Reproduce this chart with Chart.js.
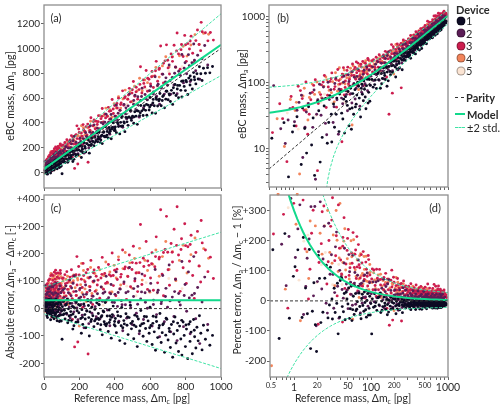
<!DOCTYPE html>
<html><head><meta charset="utf-8">
<script src="https://cdn.jsdelivr.net/npm/chart.js@4.4.1/dist/chart.umd.min.js"></script>
<style>
html,body{margin:0;padding:0;background:#fff;}
#wrap{position:relative;width:500px;height:407px;overflow:hidden;font-family:Lato,"Open Sans",sans-serif;color:#2a2a2a;}
canvas{position:absolute;}
.t{position:absolute;font-size:10.5px;white-space:nowrap;line-height:1;}
.t sub{font-size:7px;vertical-align:-2px;line-height:0;}
.rot{transform:translate(-50%,-50%) rotate(-90deg);}
.hc{transform:translate(-50%,-50%);}
.pl{position:absolute;font-size:11px;transform:translate(-50%,-50%);}
.lg{position:absolute;font-size:11px;line-height:1;white-space:nowrap;}
.dot{position:absolute;width:9px;height:9px;border-radius:50%;box-sizing:border-box;border:1px solid rgba(0,0,0,0.35);transform:translate(-50%,-50%);}
.ln{position:absolute;height:0;}
</style>
</head><body>
<div id="wrap">
<canvas id="ca" width="240" height="192" style="left:0;top:0"></canvas>
<canvas id="cb" width="240" height="192" style="left:226px;top:0"></canvas>
<canvas id="cc" width="240" height="215" style="left:0;top:192px"></canvas>
<canvas id="cd" width="240" height="215" style="left:226px;top:192px"></canvas>
<div class="t rot" style="left:10px;top:96px">eBC mass, Δm<sub>a</sub> [pg]</div>
<div class="t rot" style="left:242px;top:94px">eBC mass, Δm<sub>a</sub> [pg]</div>
<div class="t rot" style="left:10px;top:292px">Absolute error, Δm<sub>a</sub> − Δm<sub>c</sub> [-]</div>
<div class="t rot" style="left:237px;top:280px">Percent error, Δm<sub>a</sub> / Δm<sub>c</sub> − 1 [%]</div>
<div class="t hc" style="left:132px;top:398px">Reference mass, Δm<sub>c</sub> [pg]</div>
<div class="t hc" style="left:353px;top:398px">Reference mass, Δm<sub>c</sub> [pg]</div>
<div class="pl" style="left:56px;top:17px">(a)</div>
<div class="pl" style="left:283px;top:17px">(b)</div>
<div class="pl" style="left:56px;top:207px">(c)</div>
<div class="pl" style="left:435px;top:207px">(d)</div>
<div id="legend"></div>
</div>
<script>
// ---------------- DATA ----------------
const deviceNames = ['1', '2', '3', '4', '5'];

// [reference mass Δm_c, eBC mass Δm_a] in pg, per device
const dev1 = [[5.3,14.3],[6.4,-1.6],[7.6,24.6],[8.7,3.7],[9.8,17.8],[11.2,30.2],[12.7,5.7],[14.1,20.1],[15.8,42.8],[17.3,11.3],[18.9,3.9],[21.4,37.4],[23.7,14.7],[26.2,57.2],[28.8,24.8],[16.4,-9.6],[19.6,-13.4],
[31.5,12.5],[33.2,47.2],[35.9,32.9],[37.4,-3.6],[39.8,66.8],[42.3,34.3],[44.9,55.9],[46.1,17.1],[48.7,51.7],[51.2,73.2],[53.8,39.8],[56.5,19.5],[58.9,67.9],[61.3,92.3],[63.7,42.7],[66.4,64.4],[69.8,87.8],[72.1,39.1],[75.6,81.6],[78.3,66.3],[81.9,105.9],[85.2,60.2],[88.6,89.6],[92.7,48.7],[96.1,111.1],[99.4,90.4],
[10.3,22],[13.2,41],[14.9,8.5],[18.1,29],[20.7,52],[22.3,6.2],[25.1,44],[27.6,12],[29.7,63],[31.1,33],[34.2,21],[36.6,58],[39.1,18],[41.6,73],[43.8,28],[47.4,61],[50.1,45],[52.6,22],[55.1,82],[57.8,41],[60.4,33],[62.8,78],[65.2,47],[68.1,101],[71.4,58],[74.2,30],[77.1,94],[80.6,53],[83.4,79],[87.1,40],[90.3,112],[94.4,71],[97.8,52],
[102,-10],[104,111],[108,85],[111,137],[115,109],[119,81],[123,136],[127,110],[131,164],[134,82],[138,137],[142,115],[147,166],[151,140],[155,111],[160,168],[164,144],[169,106],[173,175],[178,147],[183,207],[187,179],[192,143],[197,182],[203,214],[208,172],[214,210],[219,161],[225,242],[231,209],[236,166],[242,233],[248,276],[253,220],[259,247],[265,218],[270,275],[276,250],[282,216],[287,284],[293,254],[298,319],[211,121],[256,156],[163,88],
[113,93],[126,141],[139,96],[152,128],[166,172],[181,131],[195,210],[217,185],[233,195],[251,262],[268,228],[286,241],
[303,248],[307,289],[312,326],[318,241],[323,292],[329,233],[334,325],[340,292],[346,368],[351,288],[357,330],[363,279],[368,363],[374,333],[380,272],[386,364],[391,400],[397,338],[403,367],[409,321],[415,403],[421,370],[428,311],[433,404],[439,443],[445,375],[451,407],[457,329],[463,444],[469,408],[475,380],[481,448],[488,500],[494,420],[500,453],[507,397],[513,489],[520,454],[527,388],[533,495],[540,458],[547,540],[553,497],[560,459],[567,538],[574,501],[581,461],[588,543],[594,504],[599,604],
[310,270],[327,301],[344,287],[372,345],[399,352],
[306,270],[321,262],[338,326],[355,300],[369,318],[383,351],[402,338],[418,392],[436,373],[454,398],[472,441],[491,437],[509,448],[526,497],[544,481],[563,509],[579,549],[597,527],
[604,542],[611,480],[617,589],[623,538],[630,478],[636,589],[642,536],[649,578],[655,637],[662,538],[668,580],[675,620],[681,521],[688,591],[694,655],[701,586],[707,634],[714,572],[720,662],[727,549],[733,640],[740,709],[746,620],[753,673],[760,603],[766,702],[773,662],[779,609],[786,737],[792,694],[799,660],[805,730],[812,629],[818,761],[825,705],[831,745],[838,673],[845,805],[851,748],[858,714],[864,796],[871,753],[878,852],[886,796],[893,742],[901,840],[912,800],[924,845],[937,803],[952,854],
[615,561],[633,602],[652,590],[671,612],[690,655],[709,625],[731,683],[755,702],[778,735],[802,742],[826,778],[849,770]];

const dev2 = [[5.6,89.6],[6.9,19.9],[7.9,11.9],[9.1,40.1],[10.4,25.4],[11.9,49.9],[13.3,7.3],[14.8,35.8],[16.6,68.6],[17.9,20.9],[19.4,3.4],[20.8,54.8],[22.9,31.9],[24.6,85.6],[27.1,16.1],[29.3,55.3],
[8.6,27],[11.2,38],[12.8,64],[14.2,21],[15.7,48],[18.6,77],[20.1,33],[21.9,94],[23.8,57],[26.1,24],[28.2,101],
[30.6,77.6],[32.8,24.8],[34.5,96.5],[36.8,54.8],[38.4,16.4],[40.9,73.9],[43.6,47.6],[45.2,124.2],[47.9,74.9],[50.3,37.3],[52.7,103.7],[55.4,67.4],[58.1,146.1],[60.9,96.9],[63.2,56.2],[66.8,123.8],[69.4,90.4],[72.7,43.7],[75.3,119.3],[79.1,88.1],[82.6,153.6],[86.9,116.9],[91.3,75.3],[95.8,153.8],
[31.9,60],[33.7,43],[35.6,117],[39.2,79],[42.1,58],[44.7,101],[48.8,66],[51.6,131],[54.2,88],[57.3,49],[61.7,120],[64.9,82],[68.3,161],[71.9,112],[76.8,71],[80.2,133],[84.7,96],[89.2,172],[93.4,118],[98.1,92],
[101,125],[106,173],[110,107],[114,155],[119,131],[124,207],[129,108],[133,168],[138,196],[143,149],[148,114],[153,200],[158,177],[164,256],[169,157],[175,203],[181,244],[186,188],[192,151],[198,236],[204,278],[210,225],[216,192],[222,273],[228,237],[235,321],[241,233],[247,280],[253,198],[259,325],[265,287],[271,254],[277,322],[283,384],[289,296],[295,265],[171,291],[226,156],[262,377],[146,251],
[116,189],[131,152],[156,231],[179,199],[208,250],[239,291],[268,301],[298,330],
[302,356],[309,325],[316,278],[323,402],[330,357],[337,325],[344,405],[351,469],[358,353],[365,405],[372,309],[379,467],[386,409],[393,366],[401,453],[408,542],[415,423],[423,377],[430,501],[437,466],[445,364],[452,549],[460,474],[467,432],[475,537],[483,633],[490,493],[498,440],[506,550],[514,623],[522,505],[530,611],[538,446],[546,581],[554,680],[562,522],[571,629],[584,585],
[312,341],[334,390],[356,388],[377,431],[398,420],[419,478],[441,455],[463,521],[486,510],[507,580],[529,545],[551,612],[573,596],[596,660],
[603,695],[611,547],[619,650],[628,771],[636,614],[645,712],[653,550],[662,680],[671,792],[680,632],[689,763],[698,703],[707,866],[716,631],[725,767],[734,705],[743,849],[752,635],[761,816],[770,783],[779,951],[788,722],[797,885],[806,796],[816,950],[826,734],[836,885],[846,1036],[857,820],[868,945],[880,752],[893,917],[908,1023],[925,867],
[618,633],[641,700],[664,690],[686,730],[712,740],[738,800],[764,790],[792,840],[821,860],[850,905]];

const dev3 = [[5.4,17.4],[6.7,47.7],[7.3,28.3],[8.3,6.3],[9.4,61.4],[10.9,21.9],[12.4,75.4],[13.9,37.9],[15.4,16.4],[16.9,54.9],[18.4,90.4],[20.6,4.6],[22.6,65.6],[24.4,101.4],[26.7,41.7],[28.4,85.4],
[9.9,42],[11.6,88],[13.1,57],[14.6,102],[16.1,33],[17.7,71],[19.3,110],[21.1,48],[23.2,92],[25.3,128],[27.8,64],[29.9,104],
[30.9,113.9],[32.4,61.4],[34.7,86.7],[36.3,42.3],[38.9,106.9],[41.4,78.4],[43.1,134.1],[45.7,64.7],[47.3,105.3],[49.6,152.6],[51.9,95.9],[54.1,66.1],[56.8,127.8],[59.2,92.2],[61.8,157.8],[64.3,112.3],[67.1,89.1],[69.9,153.9],[72.4,127.4],[74.8,189.8],[77.6,115.6],[80.4,147.4],[83.9,91.9],[87.3,179.3],[90.6,135.6],[93.2,221.2],[95.9,156.9],[98.7,125.7],[65.5,205.5],[42.6,12.6],
[31.6,140],[33.8,79],[35.4,112],[37.7,158],[40.3,95],[42.9,121],[44.6,168],[46.9,84],[48.9,131],[50.7,171],[53.3,112],[55.9,145],[58.4,191],[60.7,128],[63.1,170],[66.2,141],[68.6,197],[71.3,150],[73.6,112],[76.2,172],[79.2,209],[81.8,140],[85.6,196],[89.1,162],[92.1,231],[96.8,180],
[102,176],[106,145],[109,221],[113,171],[117,134],[121,212],[125,171],[129,264],[133,203],[137,166],[141,244],[146,200],[150,231],[155,297],[159,195],[164,259],[168,230],[173,33],[177,297],[182,230],[187,273],[191,69],[196,350],[201,269],[206,237],[211,318],[216,293],[221,386],[227,269],[232,330],[238,369],[243,302],[249,83],[254,366],[260,340],[265,441],[271,317],[277,376],[283,424],[289,352],[295,413],[161,121],[219,224],[275,290],[186,376],
[104,214],[118,242],[132,226],[147,262],[163,281],[181,305],[199,322],[224,345],[247,390],[279,410],
[301,387],[308,458],[315,353],[322,434],[329,516],[336,407],[343,471],[350,375],[357,453],[364,525],[371,429],[378,497],[385,588],[392,476],[399,539],[406,453],[414,520],[421,599],[429,502],[436,561],[444,658],[451,542],[459,611],[466,499],[474,591],[482,678],[489,569],[497,640],[505,733],[513,614],[521,687],[529,591],[537,668],[545,852],[553,641],[561,745],[569,689],[577,822],[585,655],[593,751],
[306,410],[327,452],[348,440],[369,493],[391,512],[412,556],[433,548],[455,600],[477,625],[499,667],[520,650],[542,710],[564,718],[586,760],
[602,714],[610,814],[618,685],[626,779],[634,896],[642,736],[650,831],[659,1020],[667,793],[675,722],[684,900],[692,1029],[701,843],[709,794],[718,956],[726,896],[735,1025],[743,851],[752,1124],[760,956],[769,832],[777,1032],[786,935],[795,1105],[804,896],[813,1039],[822,995],[831,1099],[840,961],[849,886],[858,1063],[867,1149],[876,1032],[885,982],[894,1134],[888,1210],[912,1126],[926,1061],[940,1128],[957,1067],
[608,772],[630,820],[652,840],[675,880],[699,905],[724,930],[749,980],[774,990],[800,1030],[826,1060]];

const dev4 = [[5.1,-5.9],[6.2,28.2],[7.7,10.7],[9.2,55.2],[10.6,37.6],[12.1,4.1],[13.4,62.4],[14.7,38.7],[16.2,59.2],[17.6,94.6],[21.8,70.8],[27.3,109.3],
[11,50],[13.9,82],[15.5,27],[18.9,66],[20.3,102],[23.1,59],[24.9,87],[26.4,121],[29.1,76],
[31.2,70.2],[33.9,50.9],[36.2,109.2],[38.6,93.6],[41.9,77.9],[44.3,132.3],[46.8,94.8],[50.8,71.8],[53.5,119.5],[57.7,22.7],[60.2,154.2],[63.9,115.9],[67.6,98.6],[71.2,178.2],[74.1,136.1],[78.8,122.8],[82.1,168.1],[86.4,214.4],[89.7,147.7],[93.8,128.8],[97.2,189.2],[39.5,167.5],[55,165],[70,78],
[32.3,103],[35.2,141],[37.4,74],[40.6,112],[43.1,98],[45.6,155],[49.2,118],[52.1,90],[56.3,139],[59.4,180],[62.4,127],[66.1,156],[69.4,120],[73.2,188],[77.4,148],[81.2,201],[85.1,142],[91.6,176],[96.4,213],
[103,166],[108,209],[114,160],[120,202],[127,152],[133,251],[140,210],[147,199],[154,249],[161,195],[168,291],[176,252],[183,231],[191,295],[199,135],[207,294],[215,273],[223,362],[231,303],[239,265],[247,360],[255,336],[263,413],[271,326],[279,375],[287,415],[295,362],[135,150],[212,377],[258,288],
[111,188],[124,231],[143,240],[166,268],[189,300],[226,330],
[304,408],[315,457],[326,404],[337,458],[349,519],[360,453],[372,506],[384,445],[396,554],[408,520],[421,610],[433,519],[446,592],[459,664],[472,590],[485,652],[498,572],[512,695],[526,657],[540,760],[555,659],[570,746],[585,724],[598,658],
[614,776],[632,846],[651,769],[669,859],[688,933],[707,850],[726,934],[745,847],[765,941],[786,1017],[808,938],[830,1027],[853,1111],[877,1032],[902,1121],[930,1114]];

const dev5 = [[8.4,34.4],[11.6,19.6],[13.4,40],[15.1,48.1],[19.8,31.8],[22.7,50],[25.5,66.5],[31.7,48.7],[38.1,84.1],[42,65],[46.4,50.4],[55.9,84.9],[64.8,116.8],[70,92],[76.3,97.3],[88.1,126.1],[101,110],[117,164],[136,162],[140,175],[158,216],[181,196],[206,250],[234,305],[263,293],[297,352],[334,346],[376,439],[421,457],[468,550],[520,567],[577,672],[638,692],[705,815],[780,853]];

// model curve and ±2 std. envelope (pg)
const modelMc = [0,4.87,5.5,6,7,8,9,10,11,12,13,14,16,18,20,22,24,26,28,30,33,36,40,45,50,55,60,70,80,90,100,120,150,200,250,300,400,500,600,700,800,900,1000];
const modelMa = [30,34.9,35.5,36,37,38,39,40,41,42,43,44,46,48,50,52,54,56,58,60,63,66,70,75,80,85,90,100,110,120,130,150,180,230,280,330,430,530,630,730,830,930,1030];
const upperMa = [79,84.8,85.6,86.2,87.4,88.6,89.8,91,92.2,93.4,94.6,95.8,98.2,100.6,103,105.4,107.8,110.2,112.6,115,118.6,122.2,127,133,139,145,151,163,175,187,199,223,259,319,379,439,559,679,799,919,1039,1159,1279];
const lowerMa = [-19,-15.1,-14.6,-14.2,-13.4,-12.6,-11.8,-11,-10.2,-9.4,-8.6,-7.8,-6.2,-4.6,-3,-1.4,0.2,1.8,3.4,5,7.4,9.8,13,17,21,25,29,37,45,53,61,77,101,141,181,221,301,381,461,541,621,701,781];
const parityMc = [0, 4.87, 1000];
const parityMa = [0, 4.87, 1000];

// tick values / labels
const linXTicks = [0,200,400,600,800,1000];
const aYTicks = [0,200,400,600,800,1000,1200];
const logXTicks = [5,6,7,8,9,10,20,30,40,50,60,70,80,90,100,200,300,400,500,600,700,800,900,1000];
const logXLabelVals = [5,10,20,50,100,200,500,1000];
const logXLabels = ['0.5','1','20','50','100','200','500','1000'];
const bYTicks = [3,4,5,6,7,8,9,10,20,30,40,50,60,70,80,90,100,200,300,400,500,600,700,800,900,1000];
const bYLabelVals = [10,100,1000];
const cYTicks = [-200,-100,0,100,200,300,400];
const cYLabels = ['-200','-100','0','+100','+200','+200','+400'];
const dYTicks = [-200,-100,0,100,200,300];
const dYLabels = ['-200','-100','0','+100','+200','+300'];

// ---------------- STYLE ----------------
const devColors = ['#0d0b24','#5b1d56','#cc1d4e','#f2845a','#fbe4d3'];
const FONT = 'Lato, "Open Sans", sans-serif';
const TXT = '#2a2a2a';
const GREEN = '#12d98c';
const GREEN2 = '#3ee3a4';
const devSets = [dev1, dev2, dev3, dev4, dev5];

// legend (HTML)
(function(){
  const L = document.getElementById('legend');
  let h = '<div class="lg" style="left:456px;top:4px;font-weight:bold">Device</div>';
  deviceNames.forEach((n,i)=>{
    const y = 20.5 + i*12.6;
    h += `<div class="dot" style="left:460.5px;top:${y}px;background:${devColors[i]}"></div>`;
    h += `<div class="lg" style="left:466px;top:${y-5.5}px">${n}</div>`;
  });
  h += '<div class="ln" style="left:455px;top:96.5px;width:9px;border-top:1px dashed #333"></div>';
  h += '<div class="lg" style="left:466px;top:91.5px;font-weight:bold">Parity</div>';
  h += `<div class="ln" style="left:455px;top:113px;width:10px;border-top:2px solid ${GREEN}"></div>`;
  h += '<div class="lg" style="left:467px;top:108.5px;font-weight:bold">Model</div>';
  h += `<div class="ln" style="left:455px;top:127px;width:10px;border-top:1px dashed ${GREEN2}"></div>`;
  h += '<div class="lg" style="left:467px;top:122px">±2 std.</div>';
  L.innerHTML = h;
})();

const frame = {
  id:'frame',
  afterDraw(chart){
    const a = chart.chartArea, c = chart.ctx;
    c.save(); c.strokeStyle = '#8e8e8e'; c.lineWidth = 1.3;
    c.strokeRect(a.left, a.top, a.right-a.left, a.bottom-a.top);
    c.restore();
  }
};

function fixTicks(vals){ return (scale)=>{ scale.ticks = vals.map(v=>({value:v})); }; }
function axis(type, min, max, tickVals, labelFn, fitFn, fontFn){
  return {
    type, min, max, offset:false,
    afterBuildTicks: fixTicks(tickVals),
    afterFit: (s)=>{ fitFn(s); s.paddingLeft=0; s.paddingRight=0; s.paddingTop=0; s.paddingBottom=0; },
    grid:{display:true, drawOnChartArea:false, drawTicks:true, tickLength:3, color:'#666', lineWidth:1},
    border:{display:false},
    ticks:{autoSkip:false, maxRotation:0, minRotation:0, padding:1, color:TXT,
      display: labelFn !== null,
      font: fontFn || {family:FONT, size:10},
      callback: labelFn || (()=>'')}
  };
}

function pointSets(tf){
  return devSets.map((d,i)=>({
    label:'Device '+deviceNames[i],
    data: d.map(p=>tf(p[0],p[1])).filter(Boolean),
    backgroundColor: devColors[i], borderWidth:0, pointRadius:1.45, pointHoverRadius:1.45,
    order: i+1, clip:2
  }));
}
function lineSet(mcArr, maArr, tf, color, width, dash){
  const data = [];
  mcArr.forEach((mc,i)=>{ const p = tf(mc, maArr[i]); if(p) data.push(p); });
  return {data, showLine:true, borderColor:color, borderWidth:width, borderDash:dash, pointRadius:0, order:0, clip:0, fill:false, tension:0};
}
function lines(tf){
  return [
    lineSet(parityMc, parityMa, tf, '#333', 1, [3,2]),
    lineSet(modelMc, upperMa, tf, GREEN2, 1, [3,1.5]),
    lineSet(modelMc, lowerMa, tf, GREEN2, 1, [3,1.5]),
    lineSet(modelMc, modelMa, tf, GREEN, 2, [])
  ];
}
function make(id, tf, xs, ys, pad){
  new Chart(document.getElementById(id), {
    type:'scatter',
    data:{datasets:[...lines(tf), ...pointSets(tf)]},
    options:{responsive:false, animation:false, devicePixelRatio:1,
      layout:{padding:pad},
      plugins:{legend:{display:false}, tooltip:{enabled:false}},
      scales:{x:xs, y:ys}},
    plugins:[frame]
  });
}

const tfA = (mc,ma)=>({x:mc, y:ma});
const tfB = (mc,ma)=> (mc>0 && ma>0) ? {x:mc, y:ma} : null;
const tfC = (mc,ma)=>({x:mc, y:ma-mc});
const tfD = (mc,ma)=> mc>0 ? {x:mc, y:(ma/mc-1)*100} : null;

const lbl = (vals, labels)=> (v)=>{ const i = vals.indexOf(v); return i<0 ? '' : labels[i]; };

// (a)
make('ca', tfA,
  axis('linear', 0, 1000, linXTicks, null, s=>{s.height=4;}),
  axis('linear', -125, 1350, aYTicks, v=>String(v), s=>{s.width=44;}),
  {left:0, top:5, right:19, bottom:0});
// (b)
make('cb', tfB,
  axis('logarithmic', 4.87, 1000, logXTicks, null, s=>{s.height=5;}),
  axis('logarithmic', 2.6, 1500, bYTicks, v=> bYLabelVals.includes(v) ? String(v) : '', s=>{s.width=43;}),
  {left:0, top:5, right:18, bottom:0});
// (c)
make('cc', tfC,
  axis('linear', 0, 1000, linXTicks, v=>String(v), s=>{s.height=30;}),
  axis('linear', -250, 415, cYTicks, lbl(cYTicks, cYLabels), s=>{s.width=44;}),
  {left:0, top:3, right:19, bottom:0});
// (d)
make('cd', tfD,
  axis('logarithmic', 4.87, 1000, logXTicks, lbl(logXLabelVals, logXLabels), s=>{s.height=30;},
    (ctx)=>({family:FONT, size: (ctx.tick && [10,100,1000].includes(ctx.tick.value)) ? 10.5 : (ctx.tick && ctx.tick.value===50 ? 8.5 : 7.5)})),
  axis('linear', -253, 352, dYTicks, lbl(dYTicks, dYLabels), s=>{s.width=44;}),
  {left:0, top:3, right:18, bottom:0});
</script>
</body></html>
